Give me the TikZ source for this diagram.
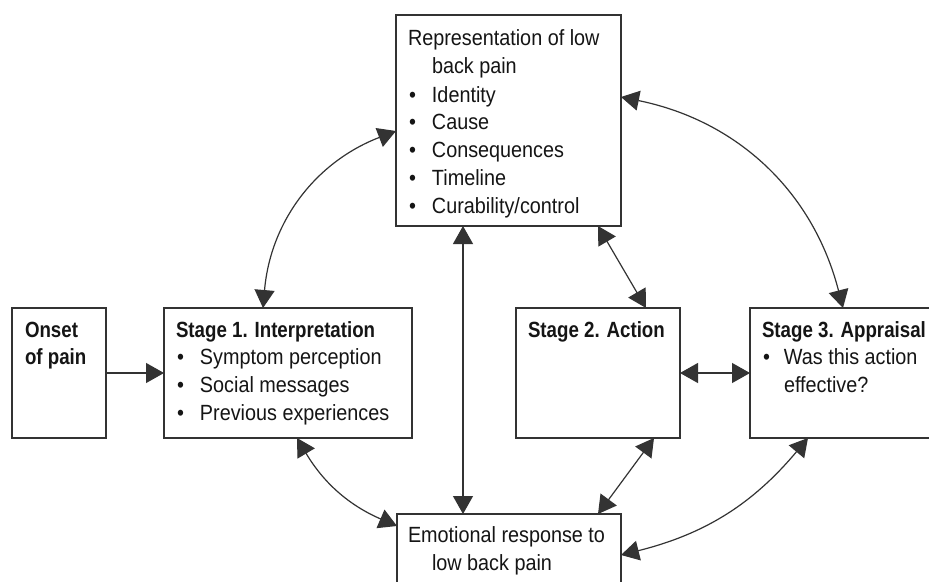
\documentclass[tikz,border=0pt]{standalone}
\usepackage{fontspec}
\setmainfont{Liberation Sans}[FakeStretch=0.9, BoldFeatures={FakeStretch=0.85}]
\usetikzlibrary{arrows.meta,calc}
\definecolor{linec}{HTML}{333333}
\definecolor{textc}{HTML}{151515}
\newcommand{\bul}{\makebox[24pt][l]{\hspace{1pt}\textbullet}}
\newcommand{\ind}{\hspace*{24pt}}
\begin{document}
\begin{tikzpicture}[x=1pt,y=-1pt,
  box/.style={draw=linec, line width=1.2pt, fill=white, inner sep=0pt, outer sep=0pt, anchor=north west},
  txt/.style={anchor=base west, inner sep=0pt, outer sep=0pt, text=textc, font=\fontsize{22}{27}\selectfont},
  btxt/.style={txt, font=\fontsize{22}{27}\selectfont\bfseries},
  conn/.style={draw=linec, line width=1.2pt, {Triangle[length=18pt,width=20pt]}-{Triangle[length=18pt,width=20pt]}},
  oneway/.style={draw=linec, line width=1.2pt, -{Triangle[length=18pt,width=20pt]}}]
\useasboundingbox (0,0) rectangle (929,581);
\clip (0,0) rectangle (929,581);
\fill[white] (0,0) rectangle (929,581);
% boxes
\node[box, minimum width=225pt, minimum height=211pt] (repr) at (396,15) {};
\node[box, minimum width=94pt, minimum height=130pt] (onset) at (12,308) {};
\node[box, minimum width=248pt, minimum height=130pt] (s1) at (164,308) {};
\node[box, minimum width=164pt, minimum height=130pt] (s2) at (516,308) {};
\node[box, minimum width=200pt, minimum height=130pt] (s3) at (750,308) {};
\node[box, minimum width=224pt, minimum height=90pt] (emo) at (397,514) {};
% texts
\node[txt] (r1) at (408,45) {Representation of low};
\node[txt] (r2) at (408,73) {\ind back pain};
\node[txt] (r3) at (408,102) {\bul Identity};
\node[txt] (r4) at (408,129) {\bul Cause};
\node[txt] (r5) at (408,157) {\bul Consequences};
\node[txt] (r6) at (408,185) {\bul Timeline};
\node[txt] (r7) at (408,213) {\bul Curability/control};
\node[btxt] (o1) at (25,337) {Onset};
\node[btxt] (o2) at (25,364) {of pain};
\node[btxt] (a1) at (176,337) {Stage 1. Interpretation};
\node[txt] (a2) at (176,364) {\bul Symptom perception};
\node[txt] (a3) at (176,392) {\bul Social messages};
\node[txt] (a4) at (176,420) {\bul Previous experiences};
\node[btxt] (b1) at (528,337) {Stage 2. Action};
\node[btxt] (c1) at (762,337) {Stage 3. Appraisal};
\node[txt] (c2) at (762,364) {\makebox[22pt][l]{\hspace{1pt}\textbullet}Was this action};
\node[txt] (c3) at (762,392) {\hspace*{22pt}effective?};
\node[txt] (e1) at (408,542) {Emotional response to};
\node[txt] (e2) at (408,570) {\ind low back pain};
% connectors
\draw[oneway] (onset.east) -- (s1.west);
\draw[conn] ($(s1.north west)+(99,0)$) to[bend left=32] ($(repr.north west)+(0,116)$);
\draw[conn] ($(repr.north east)+(0,82)$) to[bend left=32] ($(s3.north west)+(93,0)$);
\draw[conn] ($(repr.south west)+(202,0)$) -- ($(s2.north west)+(130,0)$);
\draw[conn] ($(repr.south west)+(67,0)$) -- ($(emo.north west)+(66,0)$);
\draw[conn] (s2.east) -- (s3.west);
\draw[conn] ($(s1.south west)+(133,0)$) to[bend right=18] ($(emo.north west)+(0,12)$);
\draw[conn] ($(s2.south west)+(138,0)$) -- ($(emo.north west)+(201,0)$);
\draw[conn] ($(emo.north east)+(0,41)$) to[bend right=18] ($(s3.south west)+(58,0)$);
\end{tikzpicture}
\end{document}
